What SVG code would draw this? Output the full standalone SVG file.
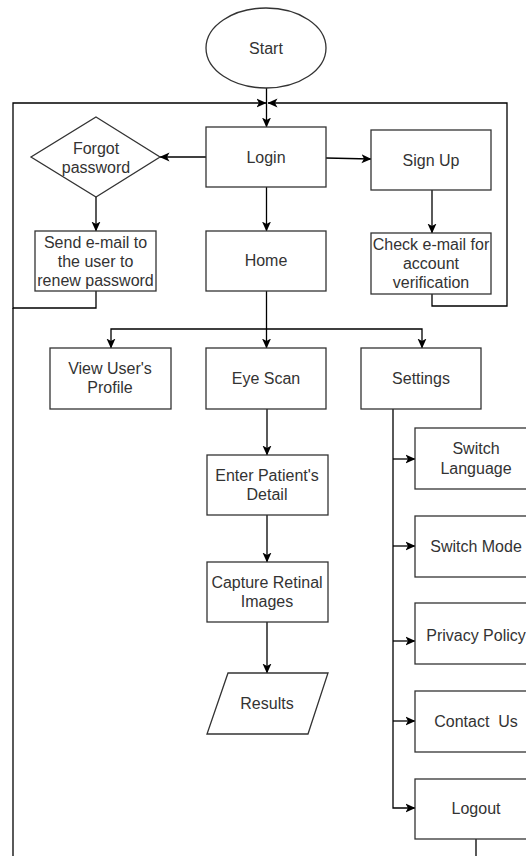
<svg xmlns="http://www.w3.org/2000/svg" width="526" height="856" viewBox="0 0 526 856">
<defs>
<marker id="arr" markerWidth="11" markerHeight="10" refX="9.5" refY="5" orient="auto" markerUnits="userSpaceOnUse">
<path d="M0,0.5 L10,5 L0,9.5 L2.5,5 Z" fill="#000"/>
</marker>
</defs>
<style>
.n{fill:#fff;stroke:#333;stroke-width:1.3}
.t{font-family:"Liberation Sans",Arial,sans-serif;font-size:16px;fill:#333;text-anchor:middle}
.c{fill:none;stroke:#000;stroke-width:1.3}
.a{marker-end:url(#arr)}
</style>
<rect width="526" height="856" fill="#fff"/>
<g id="connectors">
<path class="c a" d="M266.5,88 V127"/>
<path class="c a" d="M96,291 V308 H13 V103 H266"/>
<path class="c" d="M13,308 V856"/>
<path class="c a" d="M432,294 V306 H507 V103 H268"/>
<path class="c a" d="M206,157 H160"/>
<path class="c a" d="M326,158 L371,159"/>
<path class="c a" d="M96,197 V231"/>
<path class="c a" d="M432,190 V233"/>
<path class="c a" d="M266.5,187 V231"/>
<path class="c a" d="M266.5,291 V348"/>
<path class="c a" d="M266.5,329 H111 V348"/>
<path class="c a" d="M266.5,329 H422 V348"/>
<path class="c a" d="M267,409 V455"/>
<path class="c a" d="M267,515 V562"/>
<path class="c a" d="M267,622 V673"/>
<path class="c a" d="M393,409 V808 H415"/>
<path class="c a" d="M393,459 H415"/>
<path class="c a" d="M393,546 H415"/>
<path class="c a" d="M393,641 H415"/>
<path class="c a" d="M393,721 H415"/>
<path class="c" d="M476,839 V856"/>
</g>
<g id="start"><ellipse class="n" cx="266" cy="48" rx="60" ry="40"/><text class="t" x="266" y="54">Start</text></g>
<g id="login"><rect class="n" x="206" y="127" width="120" height="60"/><text class="t" x="266" y="163">Login</text></g>
<g id="signup"><rect class="n" x="371" y="130" width="120" height="60"/><text class="t" x="431" y="166">Sign Up</text></g>
<g id="forgot"><polygon class="n" points="96,117 160,157 96,197 31,157"/><text class="t" x="96" y="154">Forgot</text><text class="t" x="96" y="173">password</text></g>
<g id="sendemail"><rect class="n" x="35" y="231" width="121" height="60"/><text class="t" x="95.5" y="248">Send e-mail to</text><text class="t" x="95.5" y="267">the user to</text><text class="t" x="95.5" y="286">renew password</text></g>
<g id="home"><rect class="n" x="206" y="231" width="120" height="60"/><text class="t" x="266" y="266">Home</text></g>
<g id="checkemail"><rect class="n" x="371" y="233" width="120" height="61"/><text class="t" x="431" y="250">Check e-mail for</text><text class="t" x="431" y="269">account</text><text class="t" x="431" y="288">verification</text></g>
<g id="profile"><rect class="n" x="50" y="348" width="121" height="61"/><text class="t" x="110" y="374">View User's</text><text class="t" x="110" y="393">Profile</text></g>
<g id="eyescan"><rect class="n" x="206" y="348" width="120" height="61"/><text class="t" x="266" y="384">Eye Scan</text></g>
<g id="settings"><rect class="n" x="361" y="348" width="120" height="61"/><text class="t" x="421" y="384">Settings</text></g>
<g id="patient"><rect class="n" x="207" y="455" width="121" height="60"/><text class="t" x="267" y="481">Enter Patient's</text><text class="t" x="267" y="500">Detail</text></g>
<g id="capture"><rect class="n" x="207" y="562" width="121" height="60"/><text class="t" x="267" y="588">Capture Retinal</text><text class="t" x="267" y="607">Images</text></g>
<g id="results"><polygon class="n" points="228,673 328,673 308,734 207,734"/><text class="t" x="267" y="709">Results</text></g>
<g id="language"><rect class="n" x="415" y="428" width="122" height="61"/><text class="t" x="476" y="454">Switch</text><text class="t" x="476" y="474">Language</text></g>
<g id="mode"><rect class="n" x="415" y="516" width="122" height="61"/><text class="t" x="476" y="552">Switch Mode</text></g>
<g id="privacy"><rect class="n" x="415" y="603" width="122" height="61"/><text class="t" x="476" y="641">Privacy Policy</text></g>
<g id="contact"><rect class="n" x="415" y="691" width="122" height="61"/><text class="t" x="476" y="727" xml:space="preserve">Contact  Us</text></g>
<g id="logout"><rect class="n" x="415" y="779" width="122" height="60"/><text class="t" x="476" y="814">Logout</text></g>
</svg>
